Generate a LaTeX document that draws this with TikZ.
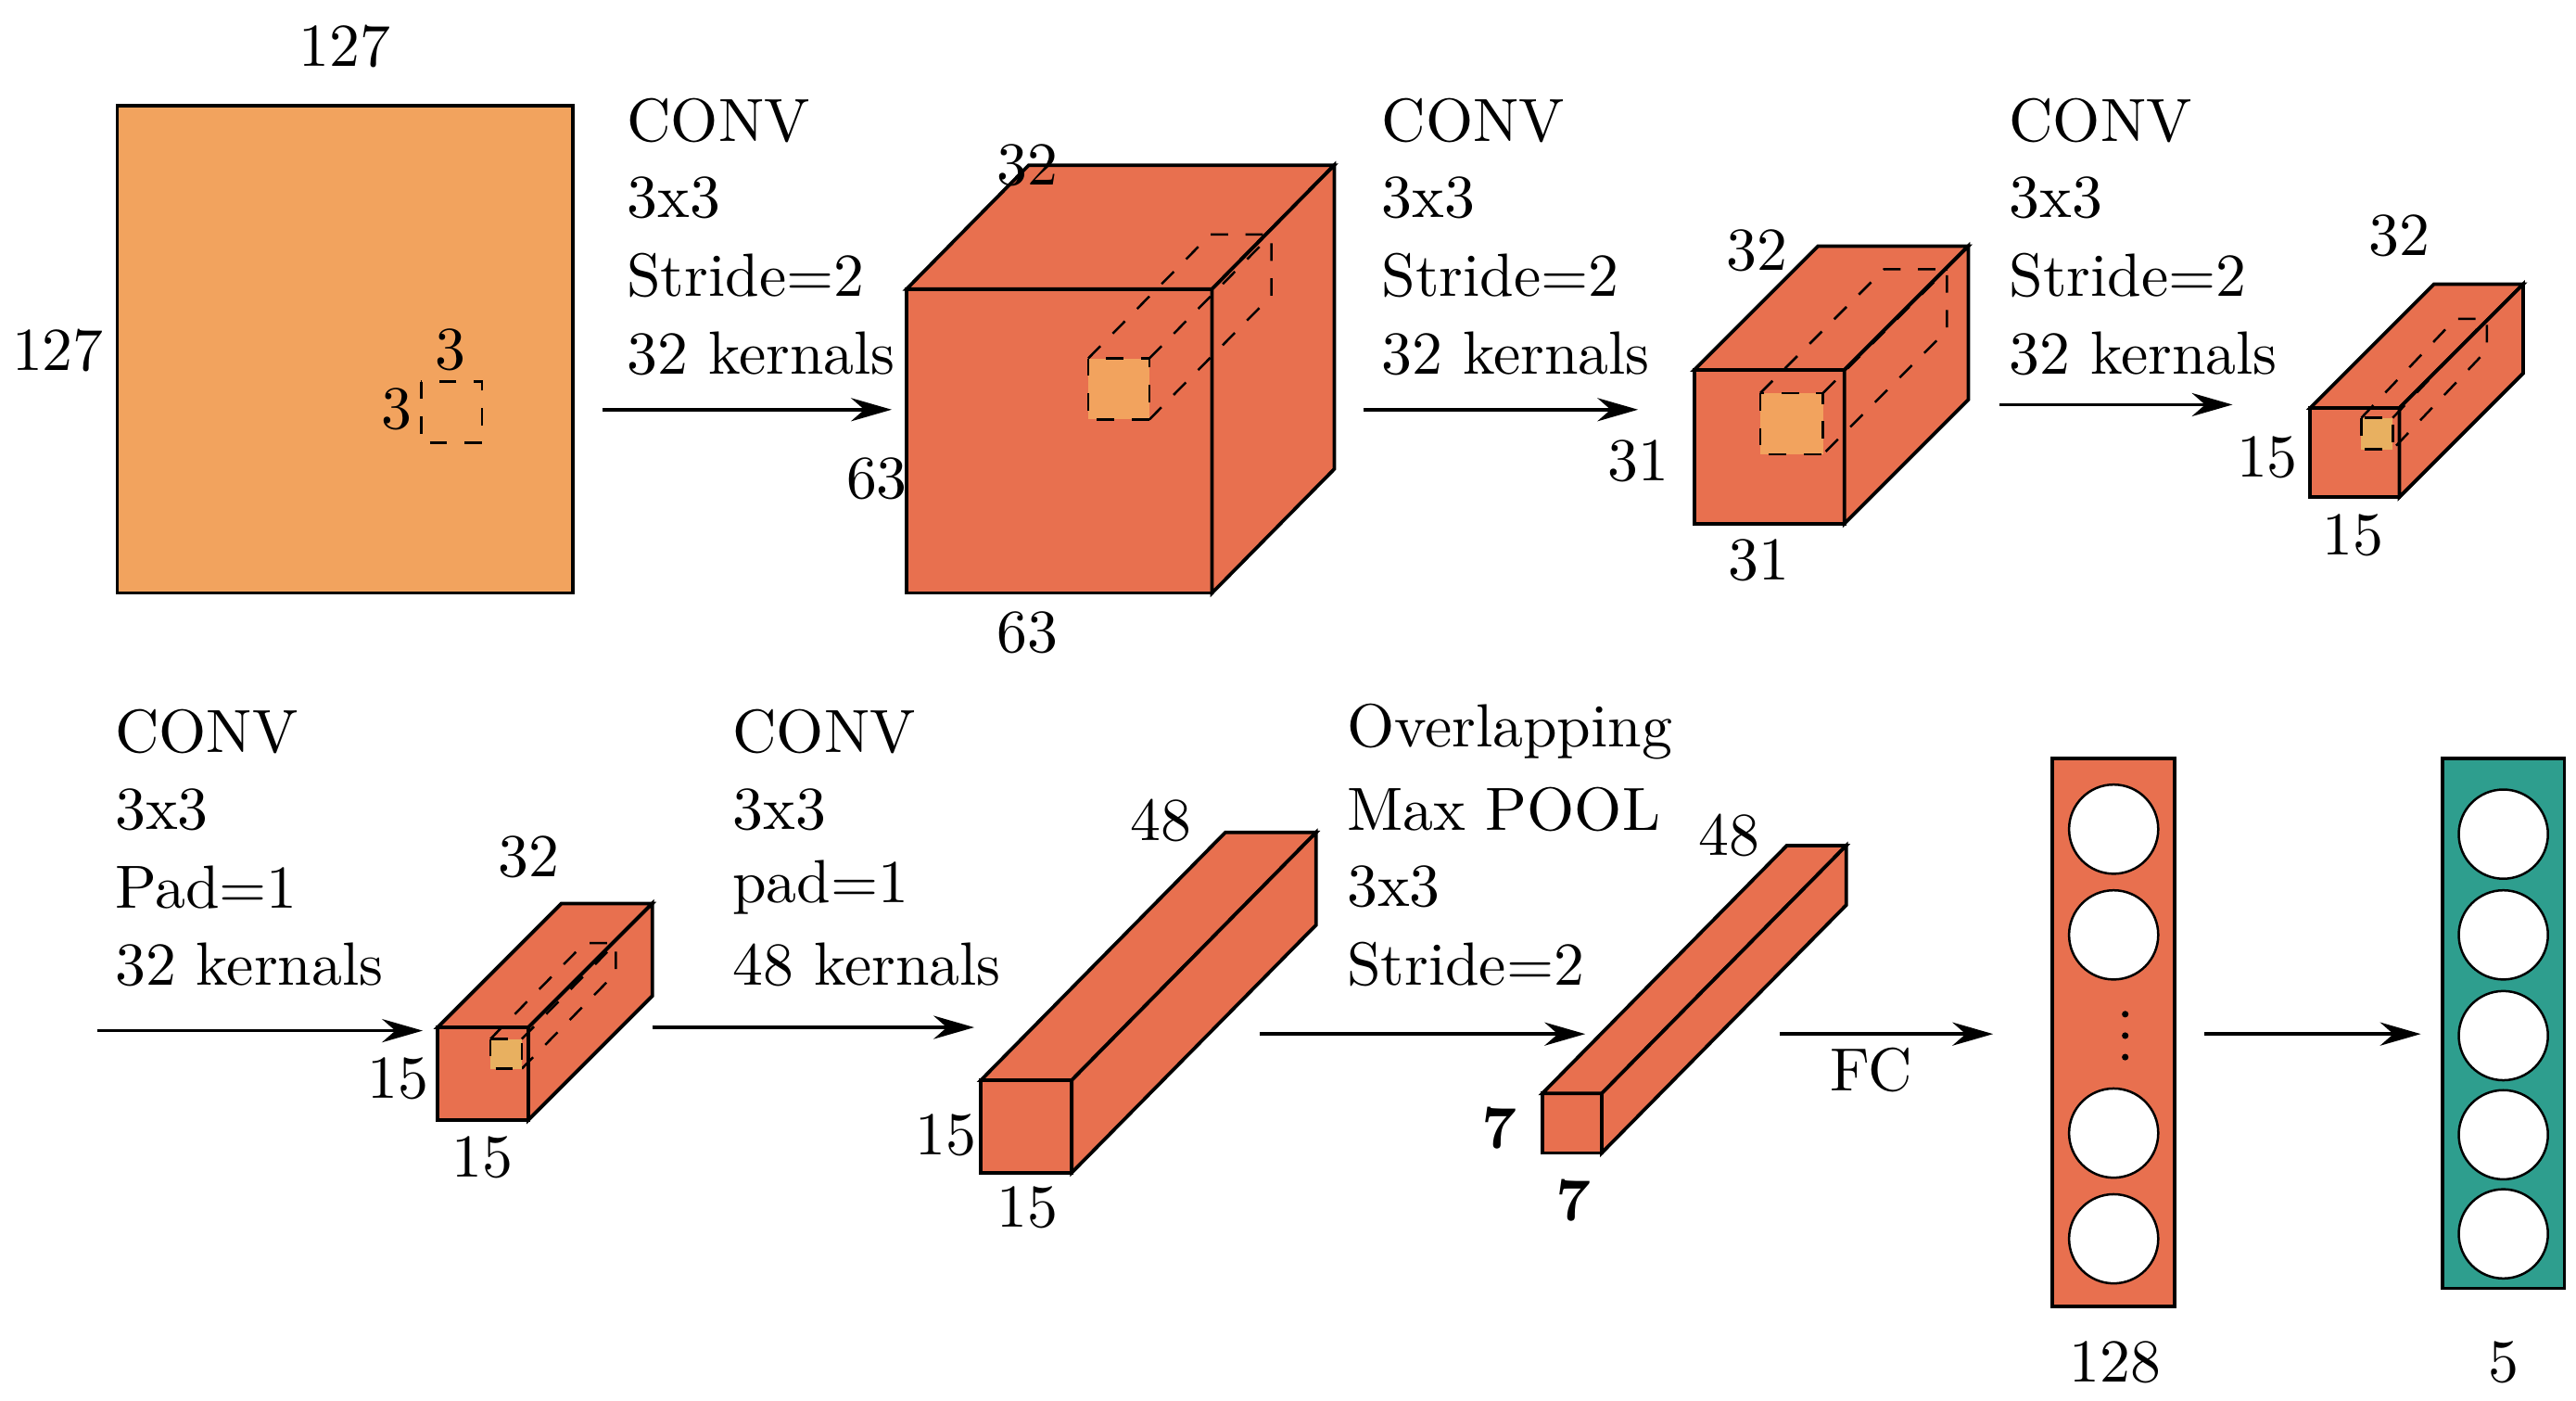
\documentclass[tikz,border=0pt]{standalone}
\usetikzlibrary{arrows.meta,calc}
\definecolor{lorange}{HTML}{F2A35E}
\definecolor{rorange}{HTML}{E8704F}
\definecolor{teal2}{HTML}{2E9E8E}
\definecolor{yel}{HTML}{E8B060}
\newcommand\mycube[6]{%
 \filldraw[fill=rorange,draw=black,line width=0.6pt] (#1,#2) rectangle (#3,#4);
 \filldraw[fill=rorange,draw=black,line width=0.6pt] (#1,#2) -- ++(#5,#6) -- ($(#3,#2)+(#5,#6)$) -- (#3,#2) -- cycle;
 \filldraw[fill=rorange,draw=black,line width=0.6pt] (#3,#2) -- ($(#3,#2)+(#5,#6)$) -- ($(#3,#4)+(#5,#6)$) -- (#3,#4) -- cycle;}
\newcommand\mykern[7]{%
 \draw[dashed] (#1,#2) -- ++(#5,#6) -- ($(#3,#2)+(#5,#6)$) -- ($(#3,#4)+(#5,#6)$) -- (#3,#4);
 \draw[dashed] (#3,#2) -- ($(#3,#2)+(#5,#6)$);
 \filldraw[dashed,fill=#7] (#1,#2) rectangle (#3,#4);}
\tikzset{lbl/.style={font=\fontsize{10.5}{12.5}\selectfont,inner sep=0pt},
 txt/.style={lbl,anchor=west,align=left},
 arr/.style={-{Stealth[length=7pt,width=4pt]},line width=0.6pt}}
\begin{document}
\begin{tikzpicture}[x=0.01cm,y=-0.01cm]
\useasboundingbox (0,0) rectangle (1560,848);
% layer 1
\filldraw[fill=lorange,line width=0.6pt] (71,64) rectangle (347,359);
\draw[dashed] (255,231) rectangle (292,268);
\node[lbl] (a1) at (209,28) {127};
\node[lbl] (a2) at (35,212) {127};
\node[lbl] (a3) at (273,212) {3};
\node[lbl] (a4) at (240,248) {3};
\foreach \t/\y in {CONV/73,3x3/120,Stride=2/167,32 kernals/214}{\node[txt] at (379,\y) {\t};}
\coordinate (p1) at (365,248); \coordinate (p2) at (540,248); \draw[arr] (p1) -- (p2);
% box 2
\mycube{549}{175}{734}{359}{74}{-75}
\mykern{659}{217}{696}{254}{74}{-75}{lorange}
\node[lbl] at (622,100) {32};
\node[lbl] at (531,290) {63};
\node[lbl] at (622,383) {63};
\foreach \t/\y in {CONV/73,3x3/120,Stride=2/167,32 kernals/214}{\node[txt] at (836,\y) {\t};}
\coordinate (p3) at (826,248); \coordinate (p4) at (992,248); \draw[arr] (p3) -- (p4);
% box 3
\mycube{1026}{224}{1117}{317}{75}{-75}
\mykern{1066}{238}{1104}{275}{75}{-75}{lorange}
\node[lbl] at (1064,152) {32};
\node[lbl] at (992,279) {31};
\node[lbl] at (1065,339) {31};
\foreach \t/\y in {CONV/73,3x3/120,Stride=2/167,32 kernals/214}{\node[txt] at (1216,\y) {\t};}
\coordinate (p5) at (1211,245); \coordinate (p6) at (1352,245); \draw[arr] (p5) -- (p6);
% box 4
\mycube{1399}{247}{1453}{301}{75}{-75}
\mykern{1430}{253}{1449}{272}{57}{-60}{yel}
\node[lbl] at (1453,143) {32};
\node[lbl] at (1373,277) {15};
\node[lbl] at (1425,324) {15};
% row 2
\foreach \t/\y in {CONV/443,3x3/490,Pad=1/537,32 kernals/584}{\node[txt] at (69,\y) {\t};}
\coordinate (q1) at (59,624); \coordinate (q2) at (256,624); \draw[arr] (q1) -- (q2);
\mycube{265}{622}{320}{678}{75}{-75}
\mykern{297}{629}{316}{647}{57}{-58}{yel}
\node[lbl] at (320,519) {32};
\node[lbl] at (241,653) {15};
\node[lbl] at (292,701) {15};
\foreach \t/\y in {CONV/443,3x3/490,pad=1/537,48 kernals/584}{\node[txt] at (443,\y) {\t};}
\coordinate (q3) at (395,622); \coordinate (q4) at (590,622); \draw[arr] (q3) -- (q4);
\mycube{594}{654}{649}{710}{148}{-150}
\node[lbl] at (703,497) {48};
\node[lbl] at (573,687) {15};
\node[lbl] at (622,731) {15};
\foreach \t/\y in {Overlapping/443,Max POOL/490,3x3/537,Stride=2/584}{\node[txt] at (815,\y) {\t};}
\coordinate (q5) at (763,626); \coordinate (q6) at (960,626); \draw[arr] (q5) -- (q6);
\mycube{934}{662}{970}{698}{148}{-150}
\node[lbl] at (1047,506) {48};
\node[lbl,font=\fontsize{10.5}{12.5}\selectfont\bfseries] at (908,683) {7};
\node[lbl,font=\fontsize{10.5}{12.5}\selectfont\bfseries] at (953,727) {7};
\coordinate (q7) at (1078,626); \coordinate (q8) at (1207,626); \draw[arr] (q7) -- (q8);
\node[lbl] at (1133,648) {FC};
% FC column
\filldraw[fill=rorange,line width=0.6pt] (1243,459) rectangle (1317,791);
\foreach \y in {502,566,686,750}{\filldraw[fill=white] (1280,\y) circle (27);}
\foreach \y in {614,627,640}{\fill (1287,\y) circle (2);}
\node[lbl] at (1281,825) {128};
\coordinate (q9) at (1335,626); \coordinate (q10) at (1466,626); \draw[arr] (q9) -- (q10);
\filldraw[fill=teal2,line width=0.6pt] (1479,459) rectangle (1553,780);
\foreach \y in {505,566,627,687,747}{\filldraw[fill=white] (1516,\y) circle (27);}
\node[lbl] at (1516,825) {5};
\end{tikzpicture}
\end{document}
